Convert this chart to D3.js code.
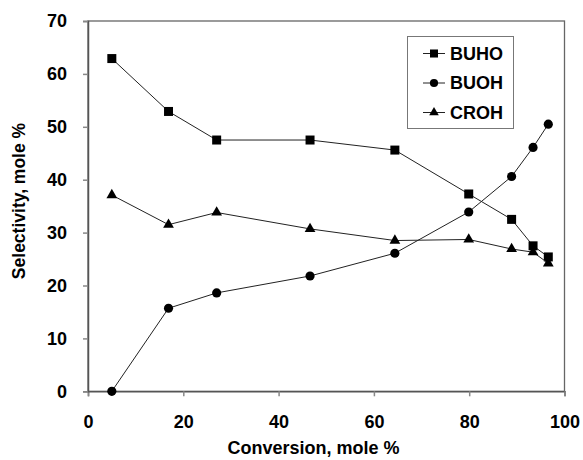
<!DOCTYPE html>
<html lang="en">
<head>
    <meta charset="UTF-8">
    <title>Selectivity vs Conversion</title>
    <script src="https://d3js.org/d3.v7.min.js"></script>
    <style>
        body { margin: 0; background: #fff; }
        text { font-family: "Liberation Sans", Arial, sans-serif; font-weight: bold; fill: #000; }
    </style>
</head>
<body>
    <script>
        // Data
        var conversion = [5, 16.9, 27, 46.6, 64.4, 79.9, 88.9, 93.4, 96.6];
        var buho = [62.9, 52.9, 47.5, 47.5, 45.6, 37.3, 32.5, 27.5, 25.4];
        var buoh = [0, 15.7, 18.6, 21.8, 26.1, 33.9, 40.6, 46.1, 50.5];
        var croh = [37.1, 31.5, 33.8, 30.7, 28.5, 28.7, 26.9, 26.3, 24.2];
        var seriesNames = ["BUHO", "BUOH", "CROH"];
        var xTicks = [0, 20, 40, 60, 80, 100];
        var yTicks = [0, 10, 20, 30, 40, 50, 60, 70];

        var width = 583, height = 460;
        var margin = { top: 21, right: 18, bottom: 69, left: 88 };

        var svg = d3.select("body").append("svg")
            .attr("width", width)
            .attr("height", height);

        var x = d3.scaleLinear().domain([0, 100])
            .range([margin.left, width - margin.right - 0.5]);
        var y = d3.scaleLinear().domain([0, 70])
            .range([height - margin.bottom + 0.3, margin.top]);

        // ramka wykresu
        svg.append("rect")
            .attr("x", x(0)).attr("y", y(70))
            .attr("width", x(100) - x(0)).attr("height", y(0) - y(70))
            .attr("fill", "none").attr("stroke", "#666").attr("stroke-width", 1.3);

        // osie
        var xAxis = svg.append("g")
            .attr("transform", "translate(0," + y(0) + ")")
            .call(d3.axisBottom(x).tickValues(xTicks).tickSize(5).tickPadding(19));
        var yAxis = svg.append("g")
            .attr("transform", "translate(" + x(0) + ",0)")
            .call(d3.axisLeft(y).tickValues(yTicks).tickSize(5).tickPadding(16));

        [xAxis, yAxis].forEach(function (a) {
            a.select(".domain").attr("stroke", "#555").attr("stroke-width", 1.5);
            a.selectAll(".tick line").attr("stroke", "#888").attr("stroke-width", 1.5);
            a.selectAll(".tick text").style("font-size", "18px").style("font-weight", "bold")
                .style("font-family", "'Liberation Sans', Arial, sans-serif").attr("fill", "#000");
        });

        // tytuły osi
        svg.append("text")
            .attr("x", 313.5)
            .attr("y", 454)
            .attr("text-anchor", "middle")
            .style("font-size", "18px")
            .text("Conversion, mole %");

        svg.append("text")
            .attr("transform", "translate(25," + 201 + ") rotate(-90)")
            .attr("text-anchor", "middle")
            .style("font-size", "17.5px")
            .text("Selectivity, mole %");

        // serie
        var series = [buho, buoh, croh].map(function (vals, i) {
            return { name: seriesNames[i], points: vals.map(function (v, j) { return [conversion[j], v]; }) };
        });

        var line = d3.line().x(function (d) { return x(d[0]); }).y(function (d) { return y(d[1]); });
        var symbols = [d3.symbolSquare, d3.symbolCircle, d3.symbolTriangle];
        var sizes = [81, 66, 50];

        series.forEach(function (s, i) {
            svg.append("path")
                .attr("d", line(s.points))
                .attr("fill", "none")
                .attr("stroke", "#222")
                .attr("stroke-width", 1);
            svg.selectAll(".m" + i)
                .data(s.points)
                .enter().append("path")
                .attr("class", "m" + i)
                .attr("transform", function (d) { return "translate(" + x(d[0]) + "," + y(d[1]) + ")"; })
                .attr("d", d3.symbol().type(symbols[i]).size(sizes[i]))
                .attr("fill", "#000");
        });

        // legenda
        var legend = svg.append("g");
        legend.append("rect")
            .attr("x", 407.5).attr("y", 36.5)
            .attr("width", 106).attr("height", 92)
            .attr("fill", "#fff").attr("stroke", "#777").attr("stroke-width", 1);

        var legendY = [53.5, 83, 112.5];
        series.forEach(function (s, i) {
            legend.append("line")
                .attr("x1", 423).attr("x2", 445)
                .attr("y1", legendY[i]).attr("y2", legendY[i])
                .attr("stroke", "#222").attr("stroke-width", 1);
            legend.append("path")
                .attr("transform", "translate(434," + legendY[i] + ")")
                .attr("d", d3.symbol().type(symbols[i]).size(sizes[i] * 0.8))
                .attr("fill", "#000");
            legend.append("text")
                .attr("x", 450).attr("y", legendY[i])
                .attr("dy", "0.36em")
                .style("font-size", "18px")
                .text(s.name);
        });
    </script>
</body>
</html>
